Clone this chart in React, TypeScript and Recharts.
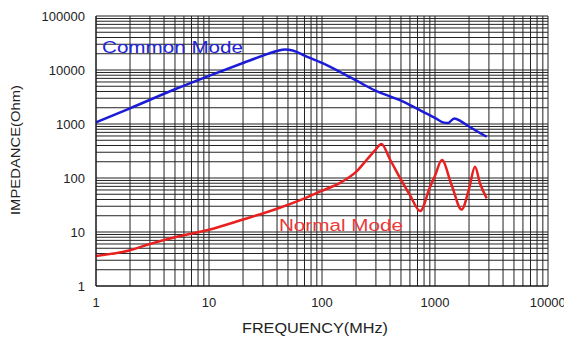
import React from 'react'
import {
  LineChart, Line, XAxis, YAxis, ReferenceLine, ReferenceDot,
} from 'recharts'

// frequency (MHz) / impedance (Ohm)
const commonFreq = [1, 2, 5, 10, 20, 30, 40, 47, 55, 70, 100, 200, 300, 500, 700, 1000, 1200, 1300, 1480, 1700, 2000, 2870]
const commonZ = [1070, 1950, 4400, 7800, 13500, 18500, 22500, 24000, 23000, 18500, 13500, 6400, 4100, 2700, 1900, 1300, 1060, 1040, 1270, 1120, 900, 580]

const normalFreq = [1, 2, 3, 5, 10, 20, 40, 70, 100, 150, 200, 250, 300, 335, 400, 500, 600, 740, 900, 1000, 1150, 1400, 1720, 2000, 2260, 2500, 2870]
const normalZ = [3.6, 4.6, 6.0, 8.0, 11, 17, 27, 42, 58, 85, 130, 220, 340, 425, 220, 93, 48, 24.5, 67, 110, 215, 75, 26, 63, 162, 80, 42]

const xTicks = [1, 10, 100, 1000, 10000]
const yTicks = [1, 10, 100, 1000, 10000, 100000]

const decadeSteps = (from: number, to: number) => {
  const out: number[] = []
  for (let d = from; d < to; d *= 10) {
    for (let k = 1; k < 10; k++) out.push(d * k)
  }
  out.push(to)
  return out
}

const xGrid = decadeSteps(1, 10000)
const yGrid = decadeSteps(1, 100000)

const commonData = commonFreq.map((f, i) => ({ f, z: commonZ[i] }))
const normalData = normalFreq.map((f, i) => ({ f, z: normalZ[i] }))

const FONT = '"Liberation Sans", Arial, sans-serif'

// stretched label, the datasheet font is wider than Arial
const wideLabel = (text: string, color: string, len: number) => (props: any) => {
  const vb = props.viewBox || {}
  return (
    <text
      x={(vb.x ?? 0) + 6}
      y={(vb.y ?? 0) + 6}
      fill={color}
      fontSize={16}
      fontFamily={FONT}
      textLength={len}
      lengthAdjust="spacingAndGlyphs"
    >
      {text}
    </text>
  )
}

export default function App() {
  return (
    <div style={{ position: 'absolute', left: 0, top: 0, background: '#fff', fontFamily: FONT }}>
      <LineChart width={564} height={340} margin={{ top: 16, right: 16, bottom: 0, left: 0 }}>
        <XAxis
          type="number"
          dataKey="f"
          scale="log"
          domain={[1, 10000]}
          ticks={xTicks}
          allowDataOverflow
          height={54}
          tickSize={0}
          tickMargin={12}
          axisLine={{ stroke: '#111' }}
          tick={{ fontSize: 13, fill: '#222', fontFamily: FONT }}
          label={{
            content: () => (
              <text x={315} y={333} textAnchor="middle" fontSize={14} fill="#222" fontFamily={FONT}
                textLength={146} lengthAdjust="spacingAndGlyphs">
                FREQUENCY(MHz)
              </text>
            ),
          }}
        />
        <YAxis
          type="number"
          dataKey="z"
          scale="log"
          domain={[1, 100000]}
          ticks={yTicks}
          allowDataOverflow
          width={96}
          tickSize={0}
          tickMargin={11}
          axisLine={{ stroke: '#111' }}
          tick={{ fontSize: 13, fill: '#222', fontFamily: FONT }}
          label={{
            content: () => (
              <text
                x={20}
                y={150}
                textAnchor="middle"
                transform="rotate(-90 20 150)"
                fontSize={13}
                fill="#222"
                fontFamily={FONT}
                textLength={130}
                lengthAdjust="spacingAndGlyphs"
              >
                IMPEDANCE(Ohm)
              </text>
            ),
          }}
        />
        {xGrid.map((v) => (
          <ReferenceLine key={'x' + v} x={v} stroke="#222" strokeWidth={1} ifOverflow="visible" />
        ))}
        {yGrid.map((v) => (
          <ReferenceLine key={'y' + v} y={v} stroke="#222" strokeWidth={1} ifOverflow="visible" />
        ))}
        <Line
          data={commonData}
          dataKey="z"
          type="monotone"
          stroke="#1c1cd8"
          strokeWidth={2.5}
          dot={false}
          isAnimationActive={false}
        />
        <Line
          data={normalData}
          dataKey="z"
          type="monotone"
          stroke="#e8201f"
          strokeWidth={2.5}
          dot={false}
          isAnimationActive={false}
        />
        <ReferenceDot
          x={1}
          y={26700}
          r={0}
          ifOverflow="visible"
          label={{ content: wideLabel('Common Mode', '#2323d8', 141) }}
        />
        <ReferenceDot
          x={36.8}
          y={13.5}
          r={0}
          ifOverflow="visible"
          label={{ content: wideLabel('Normal Mode', '#e83a3a', 124) }}
        />
      </LineChart>
    </div>
  )
}
